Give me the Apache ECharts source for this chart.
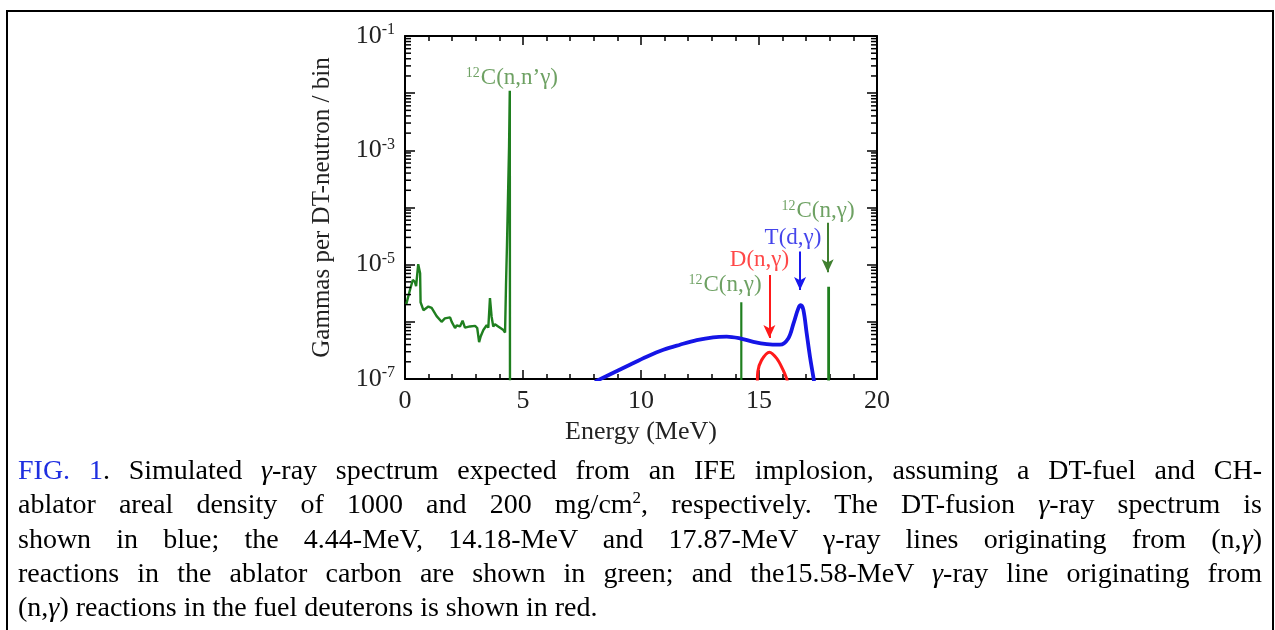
<!DOCTYPE html>
<html>
<head>
<meta charset="utf-8">
<script src="https://cdn.jsdelivr.net/npm/echarts@6/dist/echarts.min.js"></script>
<style>
  html, body { margin:0; padding:0; background:#fff; }
  #frame { position:absolute; left:6px; top:10px; width:1268px; height:700px; box-sizing:border-box; border:2px solid #000; border-bottom:none; }
  #chart { position:absolute; left:0; top:0; width:1275px; height:630px; }
  #caption { position:absolute; left:18px; width:1244px; top:453px; font-family:"Liberation Serif", "Times New Roman", serif; font-size:28px; line-height:34.3px; color:#000; }
  #caption .ln { text-align:justify; text-align-last:justify; }
  #caption .ln.last { text-align-last:left; }
  #caption .fig { color:#1f2fe0; }
</style>
</head>
<body>
<div id="frame"></div>
<div id="chart"></div>
<div id="caption">
<div class="ln"><span class="fig">FIG. 1</span>. Simulated <i>γ</i>-ray spectrum expected from an IFE implosion, assuming a DT-fuel and CH-</div>
<div class="ln">ablator areal density of 1000 and 200 mg/cm<sup style="font-size:17px;line-height:0">2</sup>, respectively. The DT-fusion <i>γ</i>-ray spectrum is</div>
<div class="ln">shown in blue; the 4.44-MeV, 14.18-MeV and 17.87-MeV γ-ray lines originating from (n,<i>γ</i>)</div>
<div class="ln">reactions in the ablator carbon are shown in green; and the15.58-MeV <i>γ</i>-ray line originating from</div>
<div class="ln last">(n,<i>γ</i>) reactions in the fuel deuterons is shown in red.</div>
</div>
<script>
// ---- Data (energy in MeV, value in gammas per DT-neutron per bin) ----
const carbonContinuum = [
  [0.05, 2.0e-6], [0.21, 3.6e-6], [0.33, 5.4e-6], [0.42, 5.0e-6], [0.47, 4.2e-6],
  [0.56, 1.02e-5], [0.64, 7.1e-6], [0.66, 2.2e-6], [0.78, 1.6e-6], [0.99, 1.85e-6],
  [1.13, 1.75e-6], [1.34, 1.26e-6], [1.55, 1.0e-6], [1.69, 1.15e-6], [1.91, 1.2e-6],
  [1.98, 1.0e-6], [2.12, 7.8e-7], [2.19, 8.7e-7], [2.33, 8.3e-7], [2.44, 1.05e-6],
  [2.54, 7.9e-7], [2.75, 8.3e-7], [2.97, 8.5e-7], [3.06, 7.8e-7], [3.14, 4.4e-7],
  [3.21, 5.6e-7], [3.32, 7.2e-7], [3.46, 8.7e-7], [3.53, 7.9e-7], [3.60, 2.6e-6],
  [3.67, 1.23e-6], [3.74, 8.3e-7], [3.81, 9.1e-7], [3.95, 8.3e-7], [4.17, 7.2e-7],
  [4.24, 6.5e-7], [4.28, 4.4e-6], [4.32, 2.1e-5], [4.41, 1.2e-3], [4.44, 1.1e-2],
  [4.45, 1.0e-8]
];
const carbonLine14 = [[14.25, 1.0e-8], [14.25, 2.2e-6]];
const carbonLine18 = [[17.95, 1.0e-8], [17.95, 4.1e-6]];
const dtFusion = [
  [8.05, 9.0e-8], [8.83, 1.29e-7], [9.53, 1.78e-7], [10.24, 2.45e-7], [10.95, 3.24e-7],
  [11.65, 3.98e-7], [12.36, 4.79e-7], [13.06, 5.37e-7], [13.63, 5.5e-7], [14.19, 5.13e-7],
  [14.76, 4.47e-7], [15.33, 4.07e-7], [15.89, 3.98e-7], [16.24, 5.13e-7], [16.46, 9.3e-7],
  [16.67, 1.74e-6], [16.77, 1.95e-6], [16.88, 1.62e-6], [17.02, 6.3e-7], [17.16, 2.45e-7],
  [17.30, 1.1e-7], [17.35, 8.0e-8]
];
const deuteronCapture = [
  [14.93, 9.0e-8], [14.95, 1.35e-7], [15.11, 2.14e-7], [15.44, 2.95e-7], [15.75, 2.29e-7],
  [16.03, 1.41e-7], [16.17, 1.02e-7], [16.20, 9.0e-8]
];
// annotation labels: [energy, value, rich text]
const labelItems = [
  [4.53, 1.85e-2, '{sg|12}{tg|C(n,n’γ)}'],
  [17.50, 8.7e-5, '{sg|12}{tg|C(n,γ)}'],
  [16.44, 2.95e-5, '{tb|T(d,γ)}'],
  [15.02, 1.2e-5, '{tr|D(n,γ)}'],
  [13.56, 4.4e-6, '{sg|12}{tg|C(n,γ)}']
];
// arrows: [energy, fromValue, toValue, colour]
const arrowItems = [
  [17.91, 5.4e-5, 7.4e-6, '#3f7f2f'],
  [16.74, 1.7e-5, 3.6e-6, '#1818ee'],
  [15.44, 6.6e-6, 5.2e-7, '#ff1a1a']
];
const xTicks = { min: 0, max: 20, interval: 5 };
const yRange = { min: 1e-7, max: 1e-1 };
const yMinorValues = [];
for (let k = -7; k <= -2; k++) for (let m = 2; m <= 9; m++) yMinorValues.push([0, m * Math.pow(10, k)]);

const FONT = '"Liberation Serif", "Times New Roman", serif';
const GREEN = '#1f7f1f', GREEN_T = '#4a8a3c', BLUE = '#1515e6', RED = '#ff1a1a';

const chart = echarts.init(document.getElementById('chart'), null, { renderer: 'canvas' });

function yLabel(v) {
  const e = Math.round(Math.log10(v));
  if (Math.abs(e) % 2 === 0) return '';
  return '{b|10}{s|' + e + '}';
}
const axisLineStyle = { color: '#000', width: 2 };
const xCommon = {
  type: 'value', min: xTicks.min, max: xTicks.max, interval: xTicks.interval,
  axisLine: { show: true, onZero: false, lineStyle: axisLineStyle },
  axisTick: { show: true, inside: true, length: 9, lineStyle: { color: '#000', width: 1.5 } },
  minorTick: { show: true, splitNumber: 5, length: 5, lineStyle: { color: '#000', width: 1.5 } },
  splitLine: { show: false }, minorSplitLine: { show: false }
};
const yCommon = {
  type: 'log', logBase: 10, min: yRange.min, max: yRange.max, splitNumber: 6,
  axisLine: { show: true, onZero: false, lineStyle: axisLineStyle },
  axisTick: { show: true, inside: true, length: 10, lineStyle: { color: '#000', width: 1.5 } },
  minorTick: { show: false },
  splitLine: { show: false }
};

const option = {
  animation: false,
  backgroundColor: 'transparent',
  grid: { left: 405, right: 398, top: 36, bottom: 251, containLabel: false, outerBoundsMode: 'none' },
  xAxis: [
    Object.assign({}, xCommon, {
      position: 'bottom',
      name: 'Energy (MeV)', nameLocation: 'middle', nameGap: 37,
      nameTextStyle: { fontFamily: FONT, fontSize: 26, color: '#222' },
      axisLabel: { show: true, margin: 9, fontFamily: FONT, fontSize: 26, color: '#222' }
    }),
    Object.assign({}, xCommon, { position: 'top', axisLabel: { show: false } })
  ],
  yAxis: [
    Object.assign({}, yCommon, {
      position: 'left',
      name: 'Gammas per DT-neutron / bin', nameLocation: 'middle', nameGap: 70, nameRotate: 90,
      nameTextStyle: { fontFamily: FONT, fontSize: 25, color: '#222' },
      axisLabel: {
        show: true, margin: 10, formatter: yLabel,
        rich: {
          b: { fontFamily: FONT, fontSize: 26, color: '#222', lineHeight: 28 },
          s: { fontFamily: FONT, fontSize: 16, color: '#222', verticalAlign: 'top', lineHeight: 28, padding: [0, 0, 12, 0] }
        }
      }
    }),
    Object.assign({}, yCommon, { position: 'right', axisLabel: { show: false } })
  ],
  series: [
    { name: 'yMinorTicks', type: 'custom', xAxisIndex: 0, yAxisIndex: 0, silent: true, z: 10,
      encode: { x: 0, y: 1 }, data: yMinorValues, clip: false,
      renderItem: function (params, api) {
        const v = api.value(1);
        const pL = api.coord([xTicks.min, v]);
        const pR = api.coord([xTicks.max, v]);
        return { type: 'group', children: [
          { type: 'line', shape: { x1: pL[0], y1: pL[1], x2: pL[0] + 6, y2: pL[1] }, style: { stroke: '#000', lineWidth: 1.5 } },
          { type: 'line', shape: { x1: pR[0], y1: pR[1], x2: pR[0] - 6, y2: pR[1] }, style: { stroke: '#000', lineWidth: 1.5 } }
        ]};
      }
    },
    { name: 'Carbon continuum', type: 'line', data: carbonContinuum, showSymbol: false, symbol: 'none',
      lineStyle: { color: GREEN, width: 2.4 }, clip: true, z: 3 },
    { name: 'C 14 MeV', type: 'line', data: carbonLine14, symbol: 'none', lineStyle: { color: GREEN, width: 2.2 }, clip: true, z: 3 },
    { name: 'C 18 MeV', type: 'line', data: carbonLine18, symbol: 'none', lineStyle: { color: GREEN, width: 2.8 }, clip: true, z: 3 },
    { name: 'DT fusion', type: 'line', data: dtFusion, symbol: 'none', smooth: 0.35,
      lineStyle: { color: BLUE, width: 3.8 }, clip: true, z: 4 },
    { name: 'D(n,g)', type: 'line', data: deuteronCapture, symbol: 'none', smooth: 0.35,
      lineStyle: { color: RED, width: 3 }, clip: true, z: 4 },
    { name: 'labels', type: 'scatter', symbolSize: 0, silent: true, z: 6,
      data: labelItems.map(d => ({ value: [d[0], d[1]], text: d[2] })),
      label: { show: true, position: 'inside', formatter: p => p.data.text,
        rich: {
          sg: { fontFamily: FONT, fontSize: 14, color: GREEN_T, verticalAlign: 'top', lineHeight: 24, padding: [0, 1, 8, 0] },
          tg: { fontFamily: FONT, fontSize: 23, color: GREEN_T, lineHeight: 24 },
          tb: { fontFamily: FONT, fontSize: 23, color: BLUE, lineHeight: 24 },
          tr: { fontFamily: FONT, fontSize: 23, color: RED, lineHeight: 24 }
        } }
    },
    { name: 'arrows', type: 'line', data: [], symbol: 'none', silent: true,
      markLine: { silent: true, symbol: ['none', 'arrow'], symbolSize: [9, 13], label: { show: false },
        data: arrowItems.map(a => [
          { coord: [a[0], a[1]], lineStyle: { color: a[3], width: 2, type: 'solid' }, itemStyle: { color: a[3] } },
          { coord: [a[0], a[2]], itemStyle: { color: a[3] } }
        ]) }
    }
  ]
};
chart.setOption(option);
</script>
</body>
</html>
